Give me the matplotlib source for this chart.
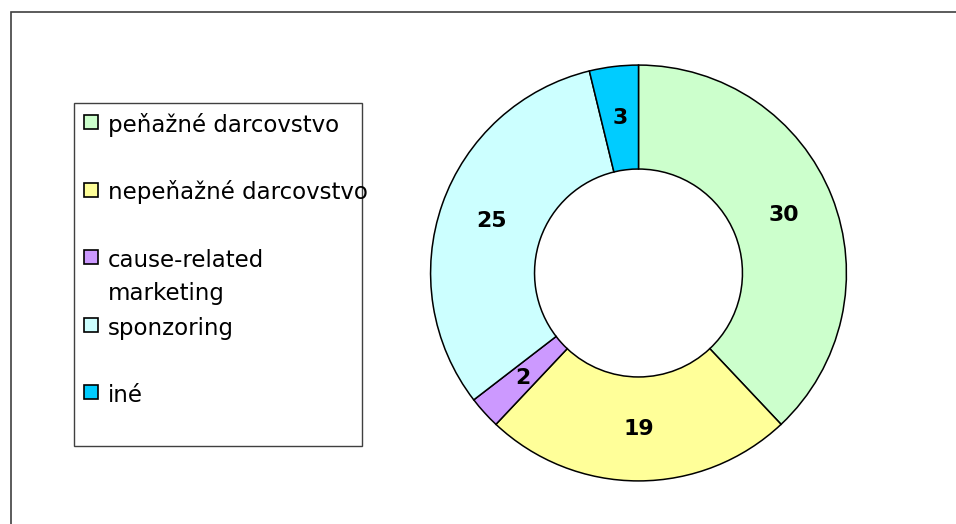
import matplotlib
matplotlib.use("Agg")
import matplotlib.pyplot as plt
from matplotlib.patches import Rectangle
import numpy as np

# data
labels = ["peňažné darcovstvo", "nepeňažné darcovstvo", "cause-related\nmarketing",
          "sponzoring", "iné"]
values = [30, 19, 2, 25, 3]
colors = ["#CCFFCC", "#FFFF99", "#CC99FF", "#CCFFFF", "#00CCFF"]

W, H = 956, 524
fig = plt.figure(figsize=(W / 100, H / 100), dpi=100)

def px(x, y):
    # pixel (from top-left) -> figure fraction
    return x / W, 1 - y / H

# outer chart frame (only top and left edges visible)
fig.patches.append(Rectangle(px(11, 560), 1000 / W, 548 / H, transform=fig.transFigure,
                             fill=False, edgecolor="#404040", linewidth=1.2, clip_on=False))

# donut
cx, cy, r = 638.5, 273, 210
ax = fig.add_axes([(cx - r) / W, (H - cy - r) / H, 2 * r / W, 2 * r / H])
wedges, _ = ax.pie(values, colors=colors, startangle=90, counterclock=False,
                   radius=1, wedgeprops=dict(width=0.5, edgecolor="black", linewidth=1.1))
total = sum(values)
start = 90.0
for v in values:
    mid = np.deg2rad(start - v / total * 360 / 2)
    ax.text(0.75 * np.cos(mid), 0.75 * np.sin(mid), str(v), ha="center", va="center",
            fontsize=15.8, fontweight="bold")
    start -= v / total * 360
ax.set_xlim(-1.01, 1.01)
ax.set_ylim(-1.01, 1.01)
ax.set_aspect("equal")
ax.axis("off")

# legend box, drawn by hand (Excel style even spacing)
x0, y0 = px(74, 446)
x1, y1 = px(362, 103)
fig.patches.append(Rectangle((x0, y0), x1 - x0, y1 - y0, transform=fig.transFigure,
                             fill=False, edgecolor="#404040", linewidth=1.0))
base0, step, line_h = 132, 67.5, 33
for i, (lab, col) in enumerate(zip(labels, colors)):
    yb = base0 + i * step
    mx, my = px(84, yb - 3)
    fig.patches.append(Rectangle((mx, my), 14 / W, 14 / H, transform=fig.transFigure,
                                 facecolor=col, edgecolor="black", linewidth=1.2))
    for k, part in enumerate(lab.split("\n")):
        tx, ty = px(108, yb + k * line_h)
        fig.text(tx, ty, part, ha="left", va="baseline", fontsize=16.5)

fig.savefig("out.png", dpi=100)
